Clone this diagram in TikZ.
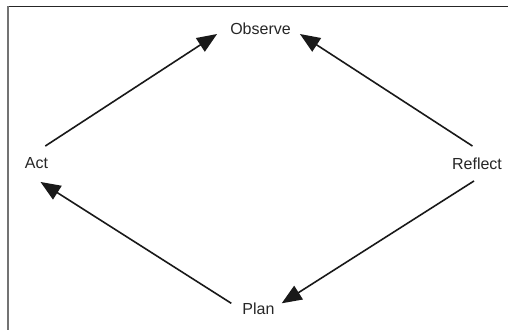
\documentclass[tikz,border=0pt]{standalone}
\usepackage{fontspec}
\setmainfont{Liberation Sans}
\usetikzlibrary{arrows.meta, positioning}

\begin{document}
\begin{tikzpicture}[
    x=1pt, y=-1pt,
    stage/.style={inner sep=0pt, text height=11.5pt, text depth=0pt,
                  font=\fontsize{16}{19}\selectfont, text=black!85},
    arrow/.style={-{Triangle[length=20pt, width=16pt]}, line width=1.6pt, black!90},
]
\useasboundingbox (0,0) rectangle (508,330);
% frame
\draw[line width=1.5pt, black!85] (7,6.5) -- (508,6.5);
\draw[line width=2pt, black!55] (8,6) -- (8,330);
% stages of the cycle
\node[stage] (observe) at (260.5,28.5) {Observe};
\node[stage] (act) at (36.5,163) {Act};
\node[stage] (reflect) at (477,164) {Reflect};
\node[stage] (plan) at (258.5,309) {Plan};
\draw[arrow] ([xshift=-3pt, yshift=11pt]act.north east) -- ([xshift=-13pt, yshift=-5.5pt]observe.west);
\draw[arrow] ([xshift=-4.5pt, yshift=12pt]reflect.north) -- ([xshift=9pt, yshift=-5.5pt]observe.east);
\draw[arrow] ([xshift=-3pt, yshift=-11pt]reflect.south) -- ([xshift=7pt, yshift=5.7pt]plan.east);
\draw[arrow] ([xshift=-11pt, yshift=5.7pt]plan.west) -- ([xshift=4pt, yshift=-13pt]act.south);
\end{tikzpicture}
\end{document}
